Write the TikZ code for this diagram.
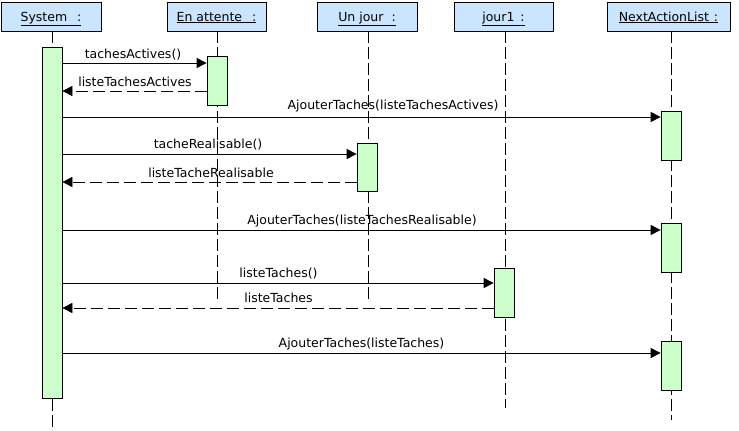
\documentclass[tikz,border=0pt]{standalone}
\usepackage{fontspec}
\setmainfont{DejaVu Sans}
\usetikzlibrary{arrows.meta}
\definecolor{headblue}{HTML}{CCE5FF}
\definecolor{actgreen}{HTML}{CCFFCC}
\tikzset{
  head/.style={draw=black, fill=headblue, line width=0.7pt, minimum height=29pt, inner sep=0pt, text height=9pt, text depth=0pt},
  act/.style={draw=black, fill=actgreen, line width=0.7pt, minimum width=20pt, inner sep=0pt},
  lifeline/.style={line width=0.7pt, dash pattern=on 12pt off 4pt},
  msg/.style={line width=0.7pt, -{Triangle[length=10pt,width=10pt]}},
  reply/.style={msg, dash pattern=on 12pt off 5pt},
  lbl/.style={anchor=base, inner sep=0pt}
}
\begin{document}
\begin{tikzpicture}[x=1pt,y=-1pt,font=\fontsize{12.5}{14}\selectfont]
\useasboundingbox (0,0) rectangle (739,431);
% headers
\node[head, minimum width=100pt] (hs) at (51,16.5) {\underline{System\hspace{10pt}:}};
\node[head, minimum width=99pt] (he) at (216.5,16.5) {\underline{En attente\hspace{10pt}:}};
\node[head, minimum width=100pt] (hu) at (367,16.5) {\underline{Un jour\hspace{8pt}:}};
\node[head, minimum width=99pt] (hj) at (503.5,16.5) {\underline{jour1\hspace{6pt}:}};
\node[head, minimum width=123pt] (hn) at (668.5,16.5) {\underline{NextActionList\hspace{5pt}:}};
% lifeline ends
\coordinate (es) at (52,428);
\coordinate (ee) at (217,303);
\coordinate (eu) at (368,303);
\coordinate (ej) at (505,408);
\coordinate (en) at (671,420);
\draw[lifeline] (hs.south -| es) -- (es);
\draw[lifeline] (he.south -| ee) -- (ee);
\draw[lifeline] (hu.south -| eu) -- (eu);
\draw[lifeline] (hj.south -| ej) -- (ej);
\draw[lifeline] (hn.south -| en) -- (en);
% activations
\node[act, minimum height=351pt] (as) at (52,222.5) {};
\node[act, minimum height=49pt] (ae) at (217,80.5) {};
\node[act, minimum height=49pt] (n1) at (671,135.5) {};
\node[act, minimum height=48pt] (au) at (367,167) {};
\node[act, minimum height=49pt] (n2) at (671,247.5) {};
\node[act, minimum height=49pt] (aj) at (504,292.5) {};
\node[act, minimum height=49pt] (n3) at (671,365.5) {};
% messages
\draw[msg] (as.east |- 0,63) -- (ae.west |- 0,63);
\node[lbl] (l1) at (133,58) {tachesActives()};
\draw[reply] (ae.west |- 0,91) -- (as.east |- 0,91);
\node[lbl] (l2) at (135,86) {listeTachesActives};
\draw[msg] (as.east |- 0,117) -- (n1.west |- 0,117);
\node[lbl] (l3) at (393,109) {AjouterTaches(listeTachesActives)};
\draw[msg] (as.east |- 0,154) -- (au.west |- 0,154);
\node[lbl] (l4) at (208,148) {tacheRealisable()};
\draw[reply] (au.west |- 0,182) -- (as.east |- 0,182);
\node[lbl] (l5) at (211,177) {listeTacheRealisable};
\draw[msg] (as.east |- 0,230) -- (n2.west |- 0,230);
\node[lbl] (l6) at (362,224) {AjouterTaches(listeTachesRealisable)};
\draw[msg] (as.east |- 0,283) -- (aj.west |- 0,283);
\node[lbl] (l7) at (278.5,277) {listeTaches()};
\draw[reply] (aj.west |- 0,308) -- (as.east |- 0,308);
\node[lbl] (l8) at (278.5,302) {listeTaches};
\draw[msg] (as.east |- 0,353) -- (n3.west |- 0,353);
\node[lbl] (l9) at (361.5,347) {AjouterTaches(listeTaches)};
\end{tikzpicture}
\end{document}
